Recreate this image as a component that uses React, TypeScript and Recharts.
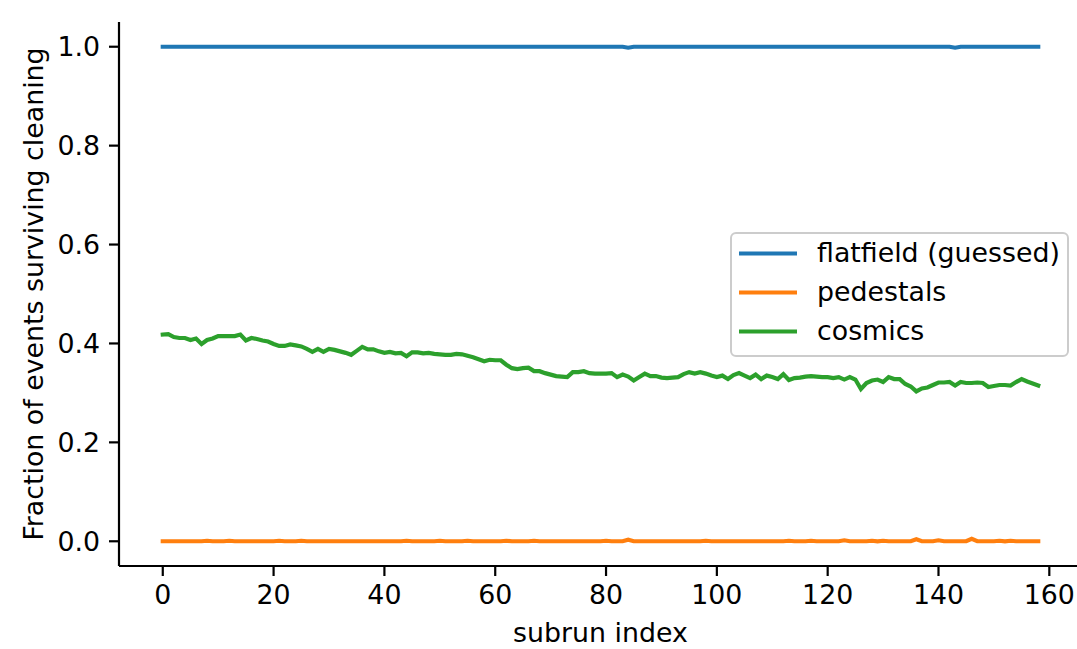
import React from 'react';
import { LineChart, Line, XAxis, YAxis } from 'recharts';

const FLATFIELD = [
  1, 1, 1, 1, 1, 1, 1, 1, 1, 1, 1, 1, 1, 1, 1, 1, 1, 1, 1, 1,
  1, 1, 1, 1, 1, 1, 1, 1, 1, 1, 1, 1, 1, 1, 1, 1, 1, 1, 1, 1,
  1, 1, 1, 1, 1, 1, 1, 1, 1, 1, 1, 1, 1, 1, 1, 1, 1, 1, 1, 1,
  1, 1, 1, 1, 1, 1, 1, 1, 1, 1, 1, 1, 1, 1, 1, 1, 1, 1, 1, 1,
  1, 1, 1, 1, 0.998, 1, 1, 1, 1, 1, 1, 1, 1, 1, 1, 1, 1, 1, 1, 1,
  1, 1, 1, 1, 1, 1, 1, 1, 1, 1, 1, 1, 1, 1, 1, 1, 1, 1, 1, 1,
  1, 1, 1, 1, 1, 1, 1, 1, 1, 1, 1, 1, 1, 1, 1, 1, 1, 1, 1, 1,
  1, 1, 1, 0.998, 1, 1, 1, 1, 1, 1, 1, 1, 1, 1, 1, 1, 1, 1, 1,
];

const PEDESTALS = [
  0, 0, 0, 0, 0, 0, 0, 0, 0.001, 0, 0, 0, 0.001, 0, 0, 0, 0, 0, 0, 0,
  0, 0.001, 0, 0, 0, 0.001, 0, 0, 0, 0, 0, 0, 0, 0, 0, 0, 0, 0, 0, 0,
  0, 0, 0, 0, 0.001, 0, 0, 0, 0, 0, 0.001, 0, 0, 0, 0, 0.001, 0, 0, 0, 0,
  0, 0, 0.001, 0, 0, 0, 0, 0.001, 0, 0, 0, 0, 0, 0, 0, 0, 0, 0, 0, 0,
  0.001, 0, 0, 0, 0.003, 0, 0, 0, 0, 0, 0, 0, 0, 0, 0, 0, 0, 0, 0.001, 0,
  0, 0, 0, 0, 0, 0, 0, 0, 0, 0, 0, 0, 0, 0.001, 0, 0, 0, 0.001, 0, 0,
  0, 0, 0, 0.002, 0, 0, 0, 0, 0.001, 0, 0.001, 0, 0, 0, 0, 0, 0.004, 0, 0, 0,
  0.002, 0, 0, 0, 0, 0, 0.005, 0, 0, 0, 0, 0.001, 0, 0.001, 0, 0, 0, 0, 0,
];

const COSMICS = [
  0.418, 0.419, 0.413, 0.411, 0.411, 0.407, 0.41, 0.399, 0.407, 0.41,
  0.415, 0.415, 0.415, 0.415, 0.418, 0.406, 0.411, 0.409, 0.406, 0.404,
  0.399, 0.395, 0.395, 0.398, 0.396, 0.394, 0.389, 0.383, 0.389, 0.383,
  0.389, 0.387, 0.384, 0.381, 0.377, 0.385, 0.393, 0.388, 0.388, 0.384,
  0.381, 0.383, 0.38, 0.381, 0.374, 0.382, 0.382, 0.38, 0.381, 0.379,
  0.378, 0.377, 0.377, 0.379, 0.378, 0.375, 0.372, 0.368, 0.364, 0.367,
  0.366, 0.366, 0.357, 0.35, 0.348, 0.35, 0.351, 0.344, 0.344, 0.34,
  0.337, 0.334, 0.333, 0.332, 0.342, 0.342, 0.344, 0.34, 0.339, 0.339,
  0.339, 0.34, 0.332, 0.337, 0.333, 0.325, 0.332, 0.339, 0.334, 0.334,
  0.331, 0.33, 0.331, 0.332, 0.338, 0.342, 0.339, 0.342, 0.339, 0.335,
  0.332, 0.335, 0.328, 0.336, 0.34, 0.335, 0.33, 0.337, 0.328, 0.335,
  0.332, 0.328, 0.338, 0.326, 0.33, 0.331, 0.333, 0.334, 0.333, 0.332,
  0.332, 0.33, 0.332, 0.327, 0.332, 0.327, 0.308, 0.32, 0.325, 0.327,
  0.322, 0.332, 0.328, 0.328, 0.318, 0.313, 0.303, 0.309, 0.311, 0.316,
  0.321, 0.321, 0.322, 0.315, 0.322, 0.32, 0.32, 0.321, 0.32, 0.312,
  0.314, 0.316, 0.316, 0.315, 0.322, 0.328, 0.323, 0.319, 0.315,
];

const SERIES_NAMES = ['flatfield (guessed)', 'pedestals', 'cosmics'];
const SERIES_COLORS = ['#1f77b4', '#ff7f0e', '#2ca02c'];
const X_TICKS = [0, 20, 40, 60, 80, 100, 120, 140, 160];
const Y_TICKS = [0, 0.2, 0.4, 0.6, 0.8, 1.0];
const X_LABEL = 'subrun index';
const Y_LABEL = 'Fraction of events surviving cleaning';

const data = COSMICS.map((c, i) => ({
  subrun: i,
  flatfield: FLATFIELD[i],
  pedestals: PEDESTALS[i],
  cosmics: c,
}));

const FONT = '"DejaVu Sans", sans-serif';
const FS = 26.8;

const LegendBox = () => (
  <div
    style={{
      position: 'absolute',
      left: 730,
      top: 232,
      width: 339,
      height: 125,
      boxSizing: 'border-box',
      border: '2px solid #cccccc',
      borderRadius: 6,
      background: 'rgba(255,255,255,0.8)',
    }}
  >
    <svg width={335} height={121} style={{ position: 'absolute', left: 0, top: 0 }}>
      {SERIES_NAMES.map((name, i) => (
        <g key={name}>
          <line
            x1={7}
            x2={65}
            y1={19.5 + i * 39}
            y2={19.5 + i * 39}
            stroke={SERIES_COLORS[i]}
            strokeWidth={4.2}
          />
          <text x={85} y={28 + i * 39} fontFamily={FONT} fontSize={FS} fill="#000">
            {name}
          </text>
        </g>
      ))}
    </svg>
  </div>
);

export default function App() {
  const axisStroke = { stroke: '#000', strokeWidth: 2.2 };
  return (
    <div
      style={{
        position: 'absolute',
        left: 0,
        top: 0,
        width: 1077,
        height: 649,
        overflow: 'hidden',
        background: '#fff',
      }}
    >
      <LineChart
        width={1084}
        height={649}
        data={data}
        margin={{ top: 22, right: 2, bottom: 0, left: 0 }}
      >
        <XAxis
          dataKey="subrun"
          type="number"
          domain={[-7.9, 165.9]}
          ticks={X_TICKS}
          allowDataOverflow
          height={83}
          tickSize={10}
          tickMargin={9}
          axisLine={axisStroke}
          tickLine={axisStroke}
          tick={{ fill: '#000', fontSize: FS, fontFamily: FONT }}
          label={{
            value: X_LABEL,
            position: 'insideBottom',
            offset: 7,
            fill: '#000',
            fontSize: FS,
            fontFamily: FONT,
          }}
        />
        <XAxis
          xAxisId="top"
          dataKey="subrun"
          type="number"
          domain={[-7.9, 165.9]}
          orientation="top"
          height={0}
          tick={false}
          tickLine={false}
          axisLine={axisStroke}
        />
        <YAxis
          type="number"
          domain={[-0.05, 1.05]}
          ticks={Y_TICKS}
          allowDataOverflow
          width={119}
          tickSize={10}
          tickMargin={9}
          axisLine={axisStroke}
          tickLine={axisStroke}
          tickFormatter={(v: number) => v.toFixed(1)}
          tick={{ fill: '#000', fontSize: FS, fontFamily: FONT }}
          label={{
            value: Y_LABEL,
            angle: -90,
            position: 'insideLeft',
            offset: 33,
            fill: '#000',
            fontSize: FS,
            fontFamily: FONT,
            style: { textAnchor: 'middle' },
          }}
        />
        <YAxis
          yAxisId="right"
          orientation="right"
          width={0}
          domain={[-0.05, 1.05]}
          tick={false}
          tickLine={false}
          axisLine={axisStroke}
        />
        <Line
          dataKey="flatfield"
          name={SERIES_NAMES[0]}
          stroke={SERIES_COLORS[0]}
          strokeWidth={4.2}
          strokeLinecap="square"
          dot={false}
          activeDot={false}
          isAnimationActive={false}
        />
        <Line
          dataKey="pedestals"
          name={SERIES_NAMES[1]}
          stroke={SERIES_COLORS[1]}
          strokeWidth={4.2}
          strokeLinecap="square"
          dot={false}
          activeDot={false}
          isAnimationActive={false}
        />
        <Line
          dataKey="cosmics"
          name={SERIES_NAMES[2]}
          stroke={SERIES_COLORS[2]}
          strokeWidth={4.2}
          strokeLinecap="square"
          dot={false}
          activeDot={false}
          isAnimationActive={false}
        />
      </LineChart>
      <LegendBox />
    </div>
  );
}
